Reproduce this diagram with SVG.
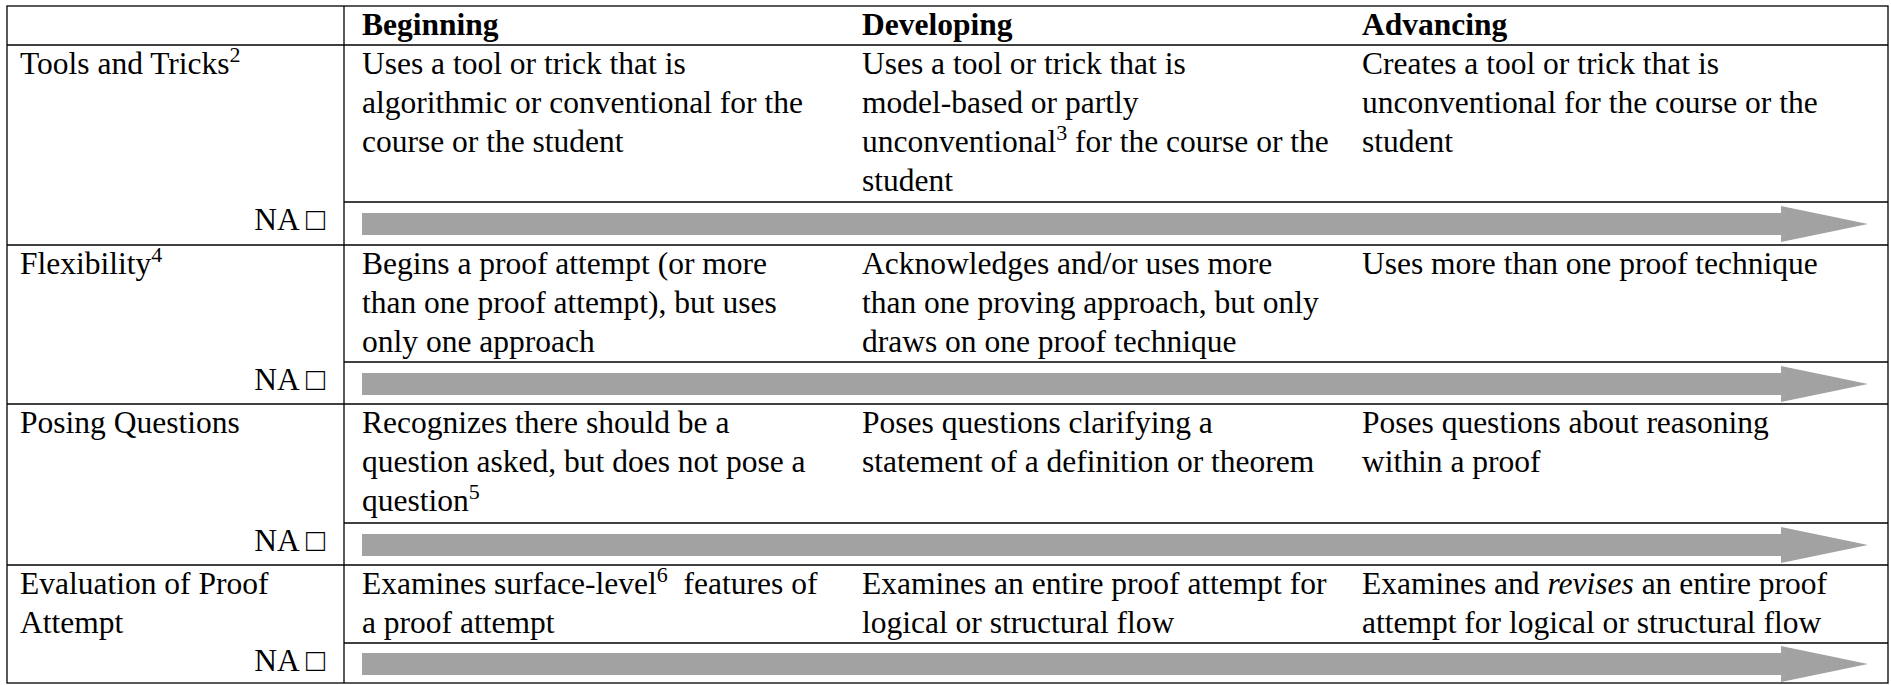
<svg xmlns="http://www.w3.org/2000/svg" width="1891" height="685" viewBox="0 0 1891 685">
<style>
text{font-family:"Liberation Serif","Times New Roman",serif;font-size:31.5px;fill:#000}
.b{font-weight:bold}
.na{text-anchor:end}
.ln{stroke:#000;stroke-width:1.3;fill:none}
.arr{fill:#a2a2a2}
</style>
<rect x="0" y="0" width="1891" height="685" fill="#fff"/>
<g id="grid">
<rect class="ln" x="7" y="6" width="1881" height="677"/>
<line class="ln" x1="344" y1="6" x2="344" y2="683"/>
<line class="ln" x1="7" y1="45" x2="1888" y2="45"/>
<line class="ln" x1="344" y1="202" x2="1888" y2="202"/>
<line class="ln" x1="7" y1="245" x2="1888" y2="245"/>
<line class="ln" x1="344" y1="362" x2="1888" y2="362"/>
<line class="ln" x1="7" y1="404" x2="1888" y2="404"/>
<line class="ln" x1="344" y1="523" x2="1888" y2="523"/>
<line class="ln" x1="7" y1="565" x2="1888" y2="565"/>
<line class="ln" x1="344" y1="643" x2="1888" y2="643"/>
</g>
<g id="header">
<text class="b" x="362" y="35">Beginning</text>
<text class="b" x="862" y="35">Developing</text>
<text class="b" x="1362" y="35">Advancing</text>
</g>
<g id="row-tools">
<text x="20" y="74">Tools and Tricks<tspan font-size="22" dy="-12">2</tspan></text>
<text x="362" y="74">Uses a tool or trick that is</text>
<text x="362" y="113">algorithmic or conventional for the</text>
<text x="362" y="152">course or the student</text>
<text x="862" y="74">Uses a tool or trick that is</text>
<text x="862" y="113">model-based or partly</text>
<text x="862" y="152">unconventional<tspan font-size="22" dy="-12">3</tspan><tspan dy="12"> for the course or the</tspan></text>
<text x="862" y="191">student</text>
<text x="1362" y="74">Creates a tool or trick that is</text>
<text x="1362" y="113">unconventional for the course or the</text>
<text x="1362" y="152">student</text>
<text class="na" x="325" y="230">NA □</text>
</g>
<g id="row-flexibility">
<text x="20" y="274">Flexibility<tspan font-size="22" dy="-12">4</tspan></text>
<text x="362" y="274">Begins a proof attempt (or more</text>
<text x="362" y="313">than one proof attempt), but uses</text>
<text x="362" y="352">only one approach</text>
<text x="862" y="274">Acknowledges and/or uses more</text>
<text x="862" y="313">than one proving approach, but only</text>
<text x="862" y="352">draws on one proof technique</text>
<text x="1362" y="274">Uses more than one proof technique</text>
<text class="na" x="325" y="390">NA □</text>
</g>
<g id="row-posing">
<text x="20" y="433">Posing Questions</text>
<text x="362" y="433">Recognizes there should be a</text>
<text x="362" y="472">question asked, but does not pose a</text>
<text x="362" y="511">question<tspan font-size="22" dy="-12">5</tspan></text>
<text x="862" y="433">Poses questions clarifying a</text>
<text x="862" y="472">statement of a definition or theorem</text>
<text x="1362" y="433">Poses questions about reasoning</text>
<text x="1362" y="472">within a proof</text>
<text class="na" x="325" y="551">NA □</text>
</g>
<g id="row-evaluation">
<text x="20" y="594">Evaluation of Proof</text>
<text x="20" y="633">Attempt</text>
<text x="362" y="594">Examines surface-level<tspan font-size="22" dy="-12">6</tspan><tspan dy="12" dx="8"> features of</tspan></text>
<text x="362" y="633">a proof attempt</text>
<text x="862" y="594">Examines an entire proof attempt for</text>
<text x="862" y="633">logical or structural flow</text>
<text x="1362" y="594">Examines and <tspan font-style="italic">revises</tspan> an entire proof</text>
<text x="1362" y="633">attempt for logical or structural flow</text>
<text class="na" x="325" y="671">NA □</text>
</g>
<g id="connectors">
<path class="arr" d="M362,213 H1781 V206 L1868,224 L1781,242 V235 H362 Z"/>
<path class="arr" d="M362,373 H1781 V366 L1868,384 L1781,402 V395 H362 Z"/>
<path class="arr" d="M362,534 H1781 V527 L1868,545 L1781,563 V556 H362 Z"/>
<path class="arr" d="M362,653 H1781 V646 L1868,664 L1781,682 V675 H362 Z"/>
</g>
</svg>
